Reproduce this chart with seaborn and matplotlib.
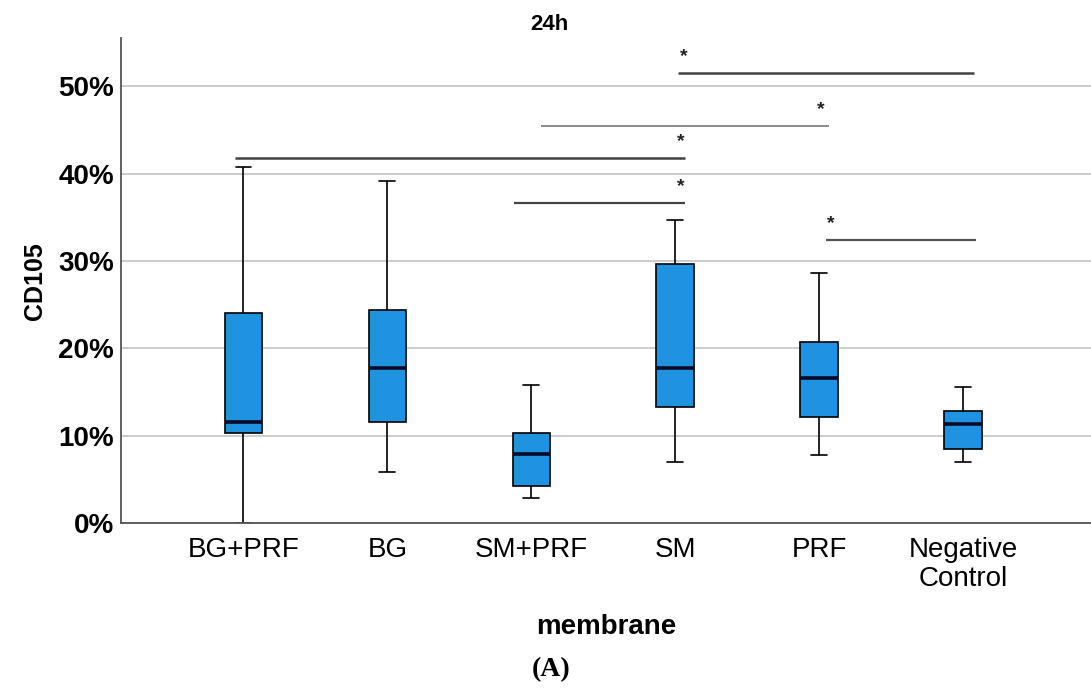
import numpy as np
import pandas as pd
import matplotlib
matplotlib.use("Agg")
import matplotlib.pyplot as plt
import seaborn as sns
from matplotlib.ticker import FuncFormatter

# --- data (percent values) ---
groups = ["BG+PRF", "BG", "SM+PRF", "SM", "PRF", "Negative\nControl"]
whisk_low = [0.0, 5.9, 2.9, 7.0, 7.8, 7.0]
q1 = [10.3, 11.6, 4.3, 13.3, 12.1, 8.5]
median = [11.6, 17.8, 7.9, 17.8, 16.6, 11.4]
q3 = [24.1, 24.4, 10.3, 29.7, 20.7, 12.8]
whisk_high = [40.7, 39.2, 15.8, 34.7, 28.6, 15.6]

# significance bars: start / end (category position), height, star position
sig_start = [3.02, 2.07, -0.06, 1.88, 4.05]
sig_end = [5.08, 4.07, 3.07, 3.07, 5.09]
sig_y = [51.5, 45.5, 41.8, 36.6, 32.4]
sig_star_x = [3.06, 4.01, 3.04, 3.04, 4.08]
sig_color = ["#444444", "#777777", "#444444", "#444444", "#555555"]
sig_lw = [1.8, 1.2, 1.8, 1.6, 1.6]

# five-number summary per group -> long table for seaborn
rows = []
for i, g in enumerate(groups):
    for v in [whisk_low[i], q1[i], median[i], q3[i], whisk_high[i]]:
        rows.append({"membrane": g, "CD105": v})
df = pd.DataFrame(rows)

sns.set_style("white")
plt.rcParams["font.family"] = ["Liberation Sans", "DejaVu Sans"]
plt.rcParams["text.color"] = "black"
plt.rcParams["axes.labelcolor"] = "black"
plt.rcParams["xtick.color"] = "black"
plt.rcParams["ytick.color"] = "black"

fig = plt.figure(figsize=(10.91, 6.93), dpi=100)
ax = fig.add_axes([0.111, 0.245, 0.889, 0.70])

ax.yaxis.grid(True, color="#c8c8c8", linewidth=1.3)
ax.set_axisbelow(True)

sns.boxplot(data=df, x="membrane", y="CD105", order=groups, whis=(0, 100),
            width=0.26, color="#1f93e0", saturation=1, linecolor="black",
            linewidth=1.2, ax=ax,
            medianprops=dict(color="#0a0a28", linewidth=2.6),
            capwidths=0.11)

for i in range(len(sig_y)):
    ax.plot([sig_start[i], sig_end[i]], [sig_y[i], sig_y[i]],
            color=sig_color[i], linewidth=sig_lw[i], solid_capstyle="butt")
    ax.text(sig_star_x[i], sig_y[i] + 0.9, "*", ha="center", va="bottom",
            fontsize=14, fontweight="bold", color="#222222")

ax.set_xlim(-0.85, 5.89)
ax.set_ylim(0, 55.5)
ax.set_yticks([0, 10, 20, 30, 40, 50])
ax.yaxis.set_major_formatter(FuncFormatter(lambda v, p: f"{v:.0f}%"))
ax.tick_params(axis="y", length=0, pad=5)
ax.tick_params(axis="x", length=0, pad=10)
for lab in ax.get_yticklabels():
    lab.set_fontsize(20)
    lab.set_fontweight("bold")
for lab in ax.get_xticklabels():
    lab.set_fontsize(20)
    lab.set_linespacing(1.15)

ax.set_xlabel("membrane", fontsize=20, fontweight="bold", labelpad=16)
ax.set_ylabel("CD105", fontsize=18, fontweight="bold", labelpad=8)

sns.despine(ax=ax, top=True, right=True)
for s in ["left", "bottom"]:
    ax.spines[s].set_color("#555555")
    ax.spines[s].set_linewidth(1.3)

fig.text(549 / 1091, 1 - 25 / 693, "24h", ha="center", va="center",
         fontsize=16, fontweight="bold")
fig.text(551 / 1091, 1 - 670 / 693, "(A)", ha="center", va="center",
         fontsize=20, fontweight="bold", family=["Liberation Serif", "DejaVu Serif"])

fig.savefig("out.png", dpi=100)
plt.close(fig)
